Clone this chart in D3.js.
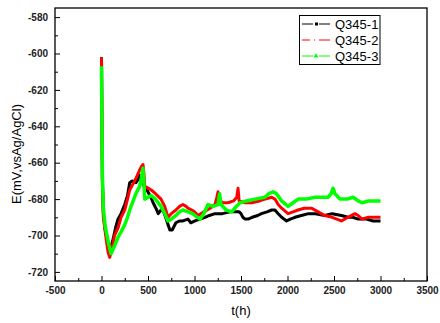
<!DOCTYPE html>
<html>
<head>
<meta charset="utf-8">
<script src="https://cdn.jsdelivr.net/npm/d3@7"></script>
<style>
  body { margin: 0; background: #fff; }
  svg { display: block; font-family: Arial, "Liberation Sans", sans-serif; }
</style>
</head>
<body>
<svg width="440" height="323"></svg>
<script>
// series: [t (h), E (mV)]
const seriesNames = ["Q345-1", "Q345-2", "Q345-3"];
const seriesColors = ["#000000", "#ff0000", "#00ff00"];

const q345_1 = [
  [0,-602],[5,-640],[10,-670],[20,-688],[40,-697],[70,-704],[95,-707],[120,-703],[150,-696],
  [177,-691],[210,-688],[250,-683],[280,-678],[303,-671],[330,-670],[370,-671],[395,-669],
  [410,-667],[430,-670],[460,-673],[500,-676],[530,-679],[555,-682],[585,-685],[610,-688],
  [640,-686],[660,-686],[690,-690],[715,-694],[735,-697],[760,-697],[800,-693],[840,-692],
  [875,-692],[930,-691],[960,-693],[1005,-692],[1060,-691],[1113,-690],[1160,-689],[1220,-688],
  [1300,-688],[1380,-687],[1435,-687],[1480,-687],[1500,-688],[1520,-690],[1545,-691],[1575,-691],
  [1620,-690],[1680,-689],[1720,-688],[1780,-687],[1830,-686],[1865,-686],[1900,-688],[1937,-690],
  [1990,-692],[2030,-691],[2080,-690],[2150,-689],[2225,-688],[2300,-688],[2400,-689],[2480,-688],
  [2580,-689],[2650,-690],[2700,-690],[2760,-691],[2850,-691],[2920,-692],[3000,-692]
];
const q345_2 = [
  [0,-602],[5,-645],[10,-672],[20,-690],[45,-700],[70,-709],[88,-712],[110,-708],[140,-700],
  [177,-696],[210,-690],[250,-686],[280,-680],[303,-675],[357,-670],[385,-667],[410,-664],
  [430,-662],[446,-661],[455,-665],[465,-673],[500,-674],[535,-675],[580,-677],[640,-680],
  [680,-684],[715,-690],[750,-688],[800,-686],[840,-684],[875,-683],[910,-684],[930,-685],
  [970,-686],[1000,-687],[1040,-689],[1100,-687],[1167,-685],[1220,-683],[1240,-679],[1253,-676],
  [1265,-681],[1310,-682],[1360,-682],[1420,-681],[1455,-679],[1468,-674],[1480,-681],[1540,-682],
  [1615,-682],[1700,-681],[1758,-680],[1830,-679],[1865,-680],[1900,-683],[1937,-685],[2006,-688],
  [2060,-687],[2113,-686],[2180,-685],[2260,-685],[2330,-687],[2400,-689],[2480,-690],[2580,-692],
  [2650,-690],[2725,-688],[2760,-689],[2800,-691],[2870,-690],[2940,-690],[3000,-690]
];
const q345_3 = [
  [0,-607],[5,-640],[10,-668],[20,-685],[40,-695],[70,-703],[102,-710],[130,-707],[177,-701],
  [210,-698],[250,-694],[280,-690],[303,-686],[340,-681],[370,-677],[410,-673],[430,-668],
  [446,-663],[455,-670],[465,-680],[500,-679],[535,-678],[580,-680],[640,-684],[680,-688],
  [715,-692],[750,-691],[800,-689],[840,-687],[875,-686],[930,-687],[980,-688],[1030,-690],
  [1060,-691],[1100,-688],[1145,-683],[1200,-684],[1253,-683],[1270,-677],[1285,-683],[1340,-686],
  [1400,-687],[1450,-684],[1490,-682],[1560,-681],[1650,-680],[1758,-679],[1800,-677],[1845,-676],
  [1880,-677],[1937,-681],[2006,-684],[2060,-682],[2115,-680],[2200,-680],[2295,-679],[2380,-679],
  [2435,-679],[2470,-677],[2490,-674],[2510,-677],[2565,-680],[2640,-680],[2705,-679],[2760,-681],
  [2800,-682],[2880,-681],[2940,-681],[3000,-681]
];

const xTickValues = [-500, 0, 500, 1000, 1500, 2000, 2500, 3000, 3500];
const yTickValues = [-720, -700, -680, -660, -640, -620, -600, -580];

const svg = d3.select("svg");
const plotL = 55, plotR = 427, plotT = 8, plotB = 281;

const x = d3.scaleLinear().domain([-500, 3500]).range([plotL, plotR]);
const y = d3.scaleLinear().domain([-725, -575]).range([plotB, plotT]);

// minor ticks
const xMinor = d3.range(-250, 3500, 500);
const yMinor = d3.range(-710, -575, 20);
const plain = d => String(d);

svg.append("g")
  .attr("transform", `translate(0,${plotB})`)
  .call(d3.axisBottom(x).tickValues(xTickValues).tickFormat(plain).tickSizeInner(-5).tickSizeOuter(0).tickPadding(6));
svg.append("g")
  .attr("transform", `translate(0,${plotB})`)
  .call(d3.axisBottom(x).tickValues(xMinor).tickSizeInner(-3).tickSizeOuter(0).tickFormat(""));
svg.append("g")
  .attr("transform", `translate(${plotL},0)`)
  .call(d3.axisLeft(y).tickValues(yTickValues).tickFormat(plain).tickSizeInner(-5).tickSizeOuter(0).tickPadding(7));
svg.append("g")
  .attr("transform", `translate(${plotL},0)`)
  .call(d3.axisLeft(y).tickValues(yMinor).tickSizeInner(-3).tickSizeOuter(0).tickFormat(""));

svg.selectAll(".domain").remove();
svg.selectAll(".tick line").attr("stroke", "#000");
svg.selectAll(".tick text")
  .attr("font-size", 10)
  .attr("font-family", "Arial, 'Liberation Sans', sans-serif")
  .attr("font-weight", "bold")
  .attr("fill", "#222");

const line = d3.line().x(d => x(d[0])).y(d => y(d[1]));
const allSeries = [q345_1, q345_2, q345_3];
const widths = [3, 3, 3.5];

allSeries.forEach((s, i) => {
  svg.append("path")
    .datum(s)
    .attr("fill", "none")
    .attr("stroke", seriesColors[i])
    .attr("stroke-width", widths[i])
    .attr("stroke-linejoin", "round")
    .attr("d", line);
});

// frame
svg.append("rect")
  .attr("x", plotL).attr("y", plotT)
  .attr("width", plotR - plotL).attr("height", plotB - plotT)
  .attr("fill", "none").attr("stroke", "#000").attr("stroke-width", 1.3);

// legend
const lg = svg.append("g");
lg.append("rect")
  .attr("x", 299.5).attr("y", 15.5).attr("width", 80.5).attr("height", 49)
  .attr("fill", "#fff").attr("stroke", "#000").attr("stroke-width", 1);
seriesNames.forEach((name, i) => {
  const ly = 24 + i * 16;
  lg.append("line")
    .attr("x1", 302).attr("x2", 330).attr("y1", ly).attr("y2", ly)
    .attr("stroke", seriesColors[i]).attr("stroke-width", 1)
    .attr("stroke-dasharray", i === 1 ? "8,4,1,4,12" : "11,6");
  if (i === 0) {
    lg.append("rect").attr("x", 315).attr("y", ly - 1.5).attr("width", 3).attr("height", 3).attr("fill", "#000");
  } else if (i === 2) {
    lg.append("path")
      .attr("transform", `translate(316,${ly})`)
      .attr("d", d3.symbol(d3.symbolTriangle, 10))
      .attr("fill", seriesColors[i]);
  }
  lg.append("text")
    .attr("x", 335).attr("y", ly + 4.5)
    .attr("font-size", 13)
    .attr("fill", "#000")
    .text(name);
});

// axis titles
svg.append("text")
  .attr("x", 241).attr("y", 315)
  .attr("text-anchor", "middle")
  .attr("font-size", 13)
  .text("t(h)");
svg.append("text")
  .attr("transform", "translate(21,154) rotate(-90)")
  .attr("text-anchor", "middle")
  .attr("font-size", 13)
  .text("E(mV,vsAg/AgCl)");
</script>
</body>
</html>
